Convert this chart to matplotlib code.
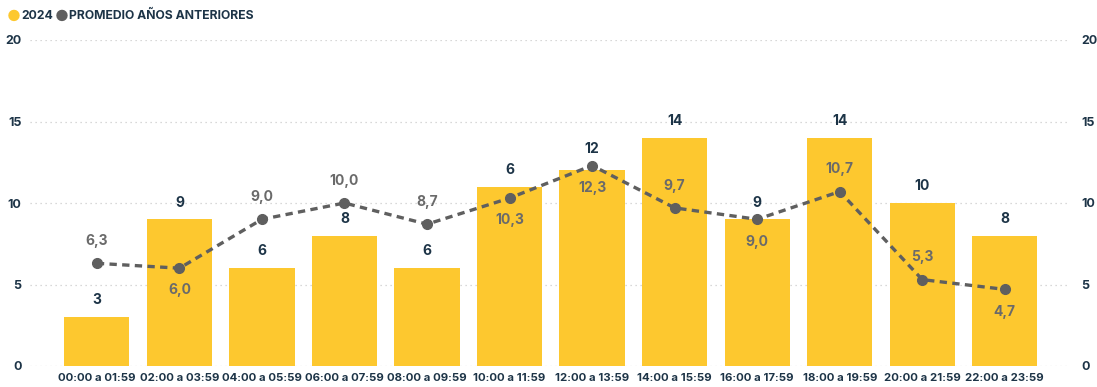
import matplotlib
matplotlib.use("Agg")
import matplotlib.pyplot as plt

categories = ["00:00 a 01:59", "02:00 a 03:59", "04:00 a 05:59", "06:00 a 07:59",
              "08:00 a 09:59", "10:00 a 11:59", "12:00 a 13:59", "14:00 a 15:59",
              "16:00 a 17:59", "18:00 a 19:59", "20:00 a 21:59", "22:00 a 23:59"]
bars_2024 = [3, 9, 6, 8, 6, 11, 12, 14, 9, 14, 10, 8]
bar_labels = ["3", "9", "6", "8", "6", "6", "12", "14", "9", "14", "10", "8"]
promedio = [6.3, 6.0, 9.0, 10.0, 8.7, 10.3, 12.3, 9.7, 9.0, 10.7, 5.3, 4.7]
promedio_label_pos = ["above", "below", "above", "above", "above", "below",
                      "below", "above", "below", "above", "above", "below"]
yticks = [0, 5, 10, 15, 20]

BAR = "#fdc82f"
LINE = "#5f5f5f"
NAVY = "#1d3447"
LGRAY = "#6a6a6a"
FONT = ["Inter", "DejaVu Sans"]
plt.rcParams["font.family"] = FONT

fig = plt.figure(figsize=(10.97, 3.87), dpi=100)
ax = fig.add_axes([30/1097, 21/387, 1040/1097, 326/387])
x = list(range(len(categories)))
ax.bar(x, bars_2024, width=0.79, color=BAR, zorder=2)
ax.plot(x, promedio, color=LINE, linestyle=(0, (2.2, 1.6)), linewidth=2.4,
        marker="o", markersize=7, zorder=3)

for xi, v, p, lab in zip(x, bars_2024, promedio, bar_labels):
    # lift the bar label above the average marker when the marker sits on the bar top
    anchor = p if 0 < p - v < 0.5 else v
    ax.annotate(lab, (xi, anchor), xytext=(0, 7), textcoords="offset points",
                ha="center", va="bottom", fontsize=10, fontweight="bold", color=NAVY)
for xi, v, pos in zip(x, promedio, promedio_label_pos):
    dy = 11 if pos == "above" else -11
    ax.annotate(f"{v:.1f}".replace(".", ","), (xi, v), xytext=(0, dy),
                textcoords="offset points", ha="center",
                va="bottom" if pos == "above" else "top",
                fontsize=10, fontweight="bold", color=LGRAY, zorder=4)

ax.set_xlim(-0.81, 11.79)
ax.set_ylim(0, 20)
ax.set_yticks(yticks)
ax.set_xticks(x)
ax.set_xticklabels(categories, fontsize=8.2, fontweight="bold", color=NAVY)
ax.tick_params(axis="both", length=0)
ax.tick_params(axis="x", pad=5)
ax.tick_params(axis="y", pad=6, labelsize=9, labelcolor=NAVY)
for t in ax.get_yticklabels():
    t.set_fontweight("bold")
ax.grid(axis="y", color="#cccccc", linestyle=(0, (1, 3)), linewidth=0.9, zorder=0)
ax.set_axisbelow(True)
for s in ax.spines.values():
    s.set_visible(False)

ax2 = ax.twinx()
ax2.set_ylim(0, 20)
ax2.set_yticks(yticks)
ax2.tick_params(axis="y", length=0, pad=8, labelsize=9, labelcolor=NAVY)
for t in ax2.get_yticklabels():
    t.set_fontweight("bold")
for s in ax2.spines.values():
    s.set_visible(False)

# legend
fig.text(14/1097, 1 - 16/387, "\u25CF", color=BAR, fontsize=11, va="center", ha="center")
fig.text(21/1097, 1 - 16/387, "2024", color=NAVY, fontsize=8.8, fontweight="bold", va="center")
fig.text(62/1097, 1 - 16/387, "\u25CF", color=LINE, fontsize=11, va="center", ha="center")
fig.text(69/1097, 1 - 16/387, "PROMEDIO AÑOS ANTERIORES", color=NAVY, fontsize=8.8,
         fontweight="bold", va="center")

fig.savefig("out.png", dpi=100)
